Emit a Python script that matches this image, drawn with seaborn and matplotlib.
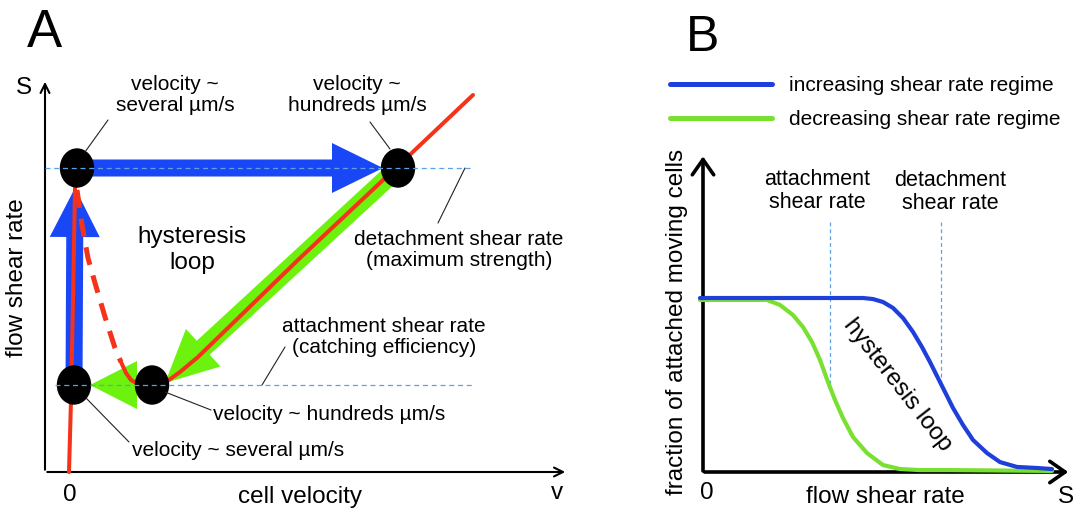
import numpy as np
import matplotlib.pyplot as plt
import seaborn as sns
from matplotlib.patches import Ellipse, FancyArrow
from matplotlib.lines import Line2D

# ============================
# Panel A data (cell velocity v, flow shear rate s, arbitrary units)
# ============================
state_v = [0.08, 3.29, 0.05, 0.83]      # black dots
state_s = [3.04, 3.04, 0.87, 0.87]
detach_s = 3.04
attach_s = 0.87

stuck_v = [0.00, 0.02, 0.04, 0.06, 0.08]
stuck_s = [0.00, 0.72, 1.72, 2.84, 3.04]

rolling_v = [0.90, 0.97, 1.11, 1.29, 2.31, 3.29, 4.04]
rolling_s = [0.88, 0.90, 1.00, 1.15, 2.14, 3.06, 3.77]

unstable_v = [0.08, 0.13, 0.19, 0.26, 0.36, 0.46, 0.52]
unstable_s = [2.82, 2.47, 2.14, 1.89, 1.55, 1.24, 1.10]
capture_v = [0.52, 0.57, 0.62, 0.69, 0.80]
capture_s = [1.10, 0.99, 0.92, 0.88, 0.87]

# transitions: start v, start s, end v, end s
up_arrow = [0.05, 0.87, 0.06, 2.84]
right_arrow = [0.08, 3.04, 3.14, 3.04]
down_arrow = [3.27, 3.02, 0.96, 0.89]
left_arrow = [0.83, 0.87, 0.21, 0.87]

# ============================
# Panel B data (flow shear rate, fraction of attached moving cells)
# ============================
inc_s = [-0.03, 0.77, 1.60, 1.70, 1.80, 1.90, 2.00, 2.10, 2.19, 2.27, 2.35, 2.42,
         2.50, 2.60, 2.70, 2.84, 2.97, 3.14, 3.34, 3.49]
inc_frac = [1.000, 1.000, 1.000, 0.994, 0.977, 0.943, 0.885, 0.805, 0.718, 0.632,
            0.540, 0.460, 0.368, 0.270, 0.184, 0.109, 0.057, 0.029, 0.023, 0.017]
dec_s = [-0.03, 0.50, 0.64, 0.77, 0.90, 1.00, 1.09, 1.17, 1.25, 1.32, 1.40, 1.50,
         1.64, 1.80, 1.97, 2.17, 2.47, 3.49]
dec_frac = [0.989, 0.989, 0.989, 0.960, 0.902, 0.833, 0.747, 0.644, 0.517, 0.414,
            0.310, 0.201, 0.109, 0.040, 0.017, 0.011, 0.011, 0.006]
attach_rate = 1.27
detach_rate = 2.38

BLUE = "#1a47f5"
GREEN = "#6cf20c"
RED = "#f5321a"
CURVE_BLUE = "#1f3fdc"
CURVE_GREEN = "#78e030"
REF = "#5aa2e6"

sns.set_theme(style="white")
plt.rcParams['font.family'] = ['Liberation Sans', 'DejaVu Sans']

W, H = 1074, 509
fig = plt.figure(figsize=(W / 100, H / 100), dpi=100)


def fx(px):
    return px / W


def fy(py):
    return 1 - py / H


def label(px, py, s, size=15, **kw):
    kw.setdefault("ha", "center")
    kw.setdefault("va", "center")
    fig.text(fx(px), fy(py), s, fontsize=size, color="black", **kw)


def leader(x0, y0, x1, y1):
    fig.add_artist(Line2D([fx(x0), fx(x1)], [fy(y0), fy(y1)], color="#222222", lw=0.8))


# ============================
# Panel A
# ============================
ax_a = fig.add_axes([0, 0, 590 / W, 1])
ax_a.set_xlim(-0.69, 5.21)
ax_a.set_ylim(-0.37, 4.72)
ax_a.axis("off")

# axes with arrows
ax_a.annotate("", xy=(-0.24, 3.93), xytext=(-0.24, -0.005),
              arrowprops=dict(arrowstyle="->", lw=1.5, color="black", mutation_scale=16))
ax_a.annotate("", xy=(4.99, 0), xytext=(-0.245, 0),
              arrowprops=dict(arrowstyle="->", lw=1.5, color="black", mutation_scale=16))

for arr, col, w, hw, hl in [(up_arrow, BLUE, 0.17, 0.50, 0.49),
                            (right_arrow, BLUE, 0.17, 0.50, 0.51),
                            (down_arrow, GREEN, 0.19, 0.51, 0.52),
                            (left_arrow, GREEN, 0.19, 0.48, 0.47)]:
    ax_a.add_patch(FancyArrow(arr[0], arr[1], arr[2] - arr[0], arr[3] - arr[1],
                              width=w, head_width=hw, head_length=hl,
                              length_includes_head=True, color=col, lw=0, zorder=2))

sns.lineplot(x=stuck_v, y=stuck_s, ax=ax_a, color=RED, linewidth=2.9, sort=False,
             estimator=None, zorder=3)
sns.lineplot(x=rolling_v, y=rolling_s, ax=ax_a, color=RED, linewidth=2.9, sort=False,
             estimator=None, zorder=3)
sns.lineplot(x=unstable_v, y=unstable_s, ax=ax_a, color=RED, linewidth=3.6, sort=False,
             estimator=None, zorder=3, linestyle=(0, (3.6, 2.2)))
sns.lineplot(x=capture_v, y=capture_s, ax=ax_a, color=RED, linewidth=2.9, sort=False,
             estimator=None, zorder=3)

for v, s in zip(state_v, state_s):
    ax_a.add_patch(Ellipse((v, s), 0.33, 0.38, color="black", zorder=5))

ax_a.plot([-0.24, 4.04], [detach_s, detach_s], color=REF, lw=0.9, ls=(0, (4, 3)), zorder=6)
ax_a.plot([-0.14, 4.04], [attach_s, attach_s], color=REF, lw=0.9, ls=(0, (4, 3)), zorder=6)

label(44, 33, "A", size=38)
label(24, 88, "S", size=17.5)
label(70, 495, "0", size=17.5)
label(557, 493, "v", size=17.5)
label(300, 497, "cell velocity", size=17.5)
label(17, 278, "flow shear rate", size=17.5, rotation=90)

label(175, 95, "velocity ~\nseveral µm/s", linespacing=1.1)
label(357, 95, "velocity ~\nhundreds µm/s", linespacing=1.1)
label(192, 250, "hysteresis\nloop", size=17.5, linespacing=1.25)
label(459, 250, "detachment shear rate\n(maximum strength)", linespacing=1.15)
label(384, 337, "attachment shear rate\n(catching efficiency)", linespacing=1.15)
label(213, 415, "velocity ~ hundreds µm/s", ha="left")
label(132, 451, "velocity ~ several µm/s", ha="left")

leader(85, 152, 108, 120)
leader(390, 149, 370, 122)
leader(465, 168, 438, 223)
leader(262, 385, 285, 347)
leader(165, 392, 211, 410)
leader(86, 398, 129, 442)

# ============================
# Panel B
# ============================
ax_b = fig.add_axes([590 / W, 0, (W - 590) / W, 1])
ax_b.set_xlim(-1.13, 3.71)
ax_b.set_ylim(-37 / 174, 472 / 174)
ax_b.axis("off")

ax_b.annotate("", xy=(0, 1.83), xytext=(0, -0.01),
              arrowprops=dict(arrowstyle="->,head_length=0.5,head_width=0.35", lw=2.6,
                              color="black", mutation_scale=22))
ax_b.annotate("", xy=(3.68, 0), xytext=(-0.012, 0),
              arrowprops=dict(arrowstyle="->,head_length=0.5,head_width=0.35", lw=2.6,
                              color="black", mutation_scale=22))

top_ref = (472 - 222) / 174
ax_b.plot([attach_rate, attach_rate], [top_ref, np.interp(attach_rate, dec_s, dec_frac)],
          color=REF, lw=0.9, ls=(0, (3, 2.5)), zorder=1)
ax_b.plot([detach_rate, detach_rate], [top_ref, np.interp(detach_rate, inc_s, inc_frac)],
          color=REF, lw=0.9, ls=(0, (3, 2.5)), zorder=1)

sns.lineplot(x=dec_s, y=dec_frac, ax=ax_b, color=CURVE_GREEN, linewidth=3.0, sort=False,
             estimator=None, zorder=3, label="decreasing shear rate regime")
sns.lineplot(x=inc_s, y=inc_frac, ax=ax_b, color=CURVE_BLUE, linewidth=3.0, sort=False,
             estimator=None, zorder=4, label="increasing shear rate regime")

handles, labels = ax_b.get_legend_handles_labels()
leg = ax_b.legend(handles[::-1], labels[::-1], loc="upper left",
                  bbox_to_anchor=(fx(670), fy(76)), bbox_transform=fig.transFigure,
                  frameon=False, fontsize=15, borderpad=0, borderaxespad=0,
                  handlelength=4.9, handletextpad=0.8, labelspacing=0.74,
                  labelcolor="black")
for line in leg.get_lines():
    line.set_linewidth(3.6)

label(703, 38, "B", size=36)
label(707, 493, "0", size=17.5)
label(1066, 497, "S", size=17.5)
label(885, 497, "flow shear rate", size=17.5)
label(677, 322, "fraction of attached moving cells", size=17.5, rotation=90)
label(817, 191, "attachment\nshear rate", size=15.5, linespacing=1.1)
label(950, 192, "detachment\nshear rate", size=15.5, linespacing=1.1)
label(897, 385, "hysteresis loop", size=17.5, rotation=-52)

plt.savefig("out.png", dpi=100)
